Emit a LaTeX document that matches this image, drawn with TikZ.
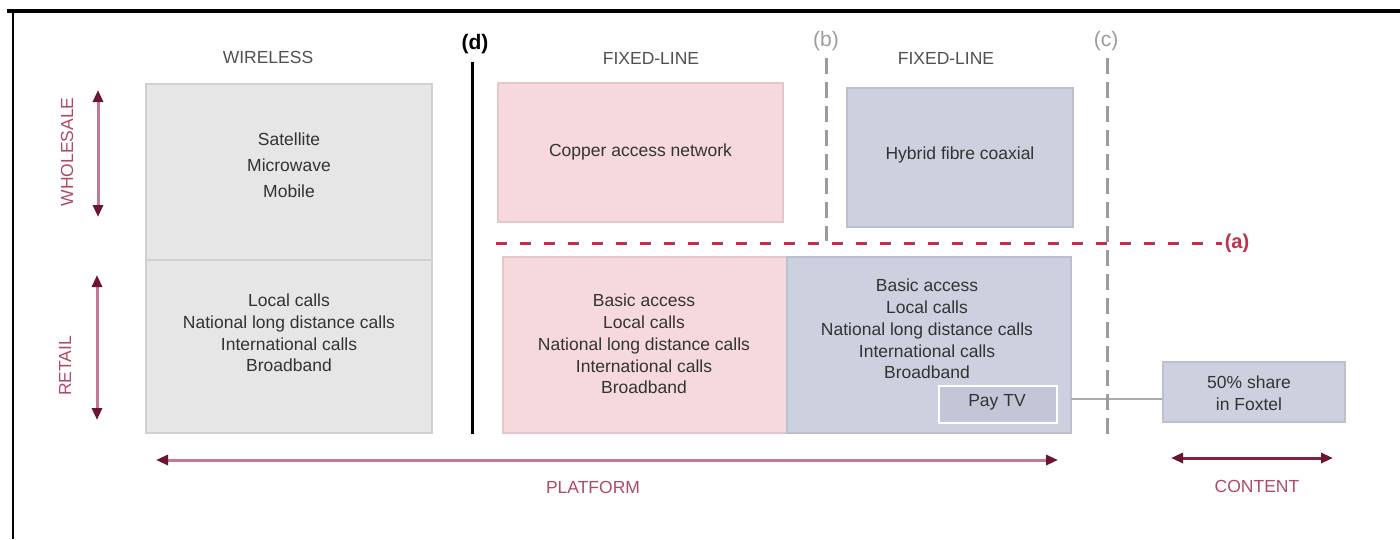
\documentclass[tikz,border=0pt]{standalone}
\usepackage{fontspec}
\setmainfont{Liberation Sans}
\usetikzlibrary{arrows.meta}

\definecolor{boxgray}{HTML}{E6E6E6}
\definecolor{edgegray}{HTML}{D0D0D0}
\definecolor{boxpink}{HTML}{F6D9DD}
\definecolor{edgepink}{HTML}{E6C6CB}
\definecolor{boxblue}{HTML}{CDD0DF}
\definecolor{edgeblue}{HTML}{BCBFCF}
\definecolor{paytvblue}{HTML}{C3C6D6}
\definecolor{bodytext}{HTML}{333333}
\definecolor{headtext}{HTML}{505050}
\definecolor{axisred}{HTML}{B24A64}
\definecolor{tipred}{HTML}{6D1530}
\definecolor{shaftred}{HTML}{C27A8E}
\definecolor{dashred}{HTML}{C23048}
\definecolor{dashgray}{HTML}{9C9C9C}

\tikzset{
  panel/.style={draw=edgegray, fill=boxgray, line width=1.2pt, inner sep=0pt},
  pinkpanel/.style={draw=edgepink, fill=boxpink, line width=1.2pt, inner sep=0pt},
  bluepanel/.style={draw=edgeblue, fill=boxblue, line width=1.2pt, inner sep=0pt},
  boxtext/.style={text=bodytext, align=center, inner sep=0pt, font=\fontsize{17.5}{21.8}\selectfont},
  headlabel/.style={text=headtext, inner sep=0pt, font=\fontsize{17.5}{20}\selectfont},
  axislabel/.style={text=axisred, inner sep=0pt, font=\fontsize{17.5}{20}\selectfont},
  cutlabel/.style={text=dashgray, inner sep=0pt, font=\fontsize{21}{22}\selectfont},
  biarrow/.style={line width=3pt, draw=shaftred,
    {Triangle[length=12pt, width=10pt, color=tipred]}-{Triangle[length=12pt, width=10pt, color=tipred]}},
  cutline/.style={draw=dashgray, line width=3pt, dash pattern=on 16pt off 8pt},
}

\begin{document}
\begin{tikzpicture}[x=1pt, y=-1pt]
\useasboundingbox (0,0) rectangle (1400,539);
\fill[white] (0,0) rectangle (1400,539);

% frame rules
\draw[line width=3.2pt] (7,11) -- (1400,11);
\draw[line width=2.4pt] (13,11) -- (13,539);

% column headings
\node[headlabel] (hwireless) at (268,57) {WIRELESS};
\node[headlabel] (hfixedA) at (651,58) {FIXED-LINE};
\node[headlabel] (hfixedB) at (946,58) {FIXED-LINE};

% wireless panels
\node[panel, minimum width=286pt, minimum height=176pt] (wsale) at (289,172) {};
\node[panel, minimum width=286pt, minimum height=173pt] (wret) at (289,346.5) {};
\node[boxtext, font=\fontsize{17.5}{26}\selectfont] (wsaletxt) at (289,165) {Satellite\\Microwave\\Mobile};
\node[boxtext] (wrettxt) at (289,333) {Local calls\\National long distance calls\\International calls\\Broadband};

% fixed-line wholesale panels
\node[pinkpanel, minimum width=285pt, minimum height=139pt] (copper) at (640.5,152.5) {};
\node[boxtext] (coppertxt) at (640.5,152) {Copper access network};
\node[bluepanel, minimum width=226pt, minimum height=139pt] (hfc) at (960,157.5) {};
\node[boxtext] (hfctxt) at (960,155) {Hybrid fibre coaxial};

% fixed-line retail panels
\node[pinkpanel, minimum width=284pt, minimum height=176pt] (pret) at (645,345) {};
\node[boxtext] (prettxt) at (644,344) {Basic access\\Local calls\\National long distance calls\\International calls\\Broadband};
\node[bluepanel, minimum width=284pt, minimum height=176pt] (bret) at (929,345) {};
\node[boxtext] (brettxt) at (927,329) {Basic access\\Local calls\\National long distance calls\\International calls\\Broadband};
\node[draw=white, fill=paytvblue, line width=2pt, minimum width=118pt, minimum height=37pt, inner sep=0pt] (paytv) at (997.5,404) {};
\node[boxtext] (paytvtxt) at (997,402) {Pay TV};

% content panel
\node[bluepanel, minimum width=182pt, minimum height=60pt] (foxtel) at (1254,392) {};
\node[boxtext] (foxteltxt) at (1249,393.5) {50\% share\\in Foxtel};
\coordinate (link) at (1071,399);
\draw[dashgray!85, line width=2pt] (link) -- (link -| foxtel.west);

% separation lines
\node[inner sep=0pt, font=\bfseries\fontsize{21}{22}\selectfont] (dlab) at (475,44) {(d)};
\coordinate (dtop) at (472,62);
\coordinate (dbot) at (472,434);
\draw[line width=3pt] (dtop) -- (dbot);

\node[cutlabel] (blab) at (826,41) {(b)};
\coordinate (btop) at (826,58);
\coordinate (bbot) at (826,241);
\draw[cutline] (btop) -- (bbot);

\node[cutlabel] (clab) at (1106,41) {(c)};
\coordinate (ctop) at (1107,58);
\coordinate (cbot) at (1107,437);
\draw[cutline] (ctop) -- (cbot);

\node[text=dashred, inner sep=0pt, font=\bfseries\fontsize{20}{22}\selectfont] (alab) at (1237,243) {(a)};
\coordinate (astart) at (496,243);
\draw[draw=dashred, line width=3pt, dash pattern=on 11pt off 13pt] (astart) -- ([xshift=-3pt]alab.west);

% axes
\coordinate (wsA) at (98,90);
\coordinate (wsB) at (98,217);
\draw[biarrow] (wsA) -- (wsB);
\node[axislabel, rotate=90] (wslab) at (67,152) {WHOLESALE};

\coordinate (rtA) at (97,275);
\coordinate (rtB) at (97,420);
\draw[biarrow] (rtA) -- (rtB);
\node[axislabel, rotate=90] (rtlab) at (65,366) {RETAIL};

\coordinate (plA) at (156,460);
\coordinate (plB) at (1058,460);
\draw[biarrow] (plA) -- (plB);
\node[axislabel] (pllab) at (593,487) {PLATFORM};

\coordinate (ctA) at (1171,458);
\coordinate (ctB) at (1333,458);
\draw[biarrow, draw=tipred!85!shaftred] (ctA) -- (ctB);
\node[axislabel] (ctlab) at (1257,486) {CONTENT};
\end{tikzpicture}
\end{document}
